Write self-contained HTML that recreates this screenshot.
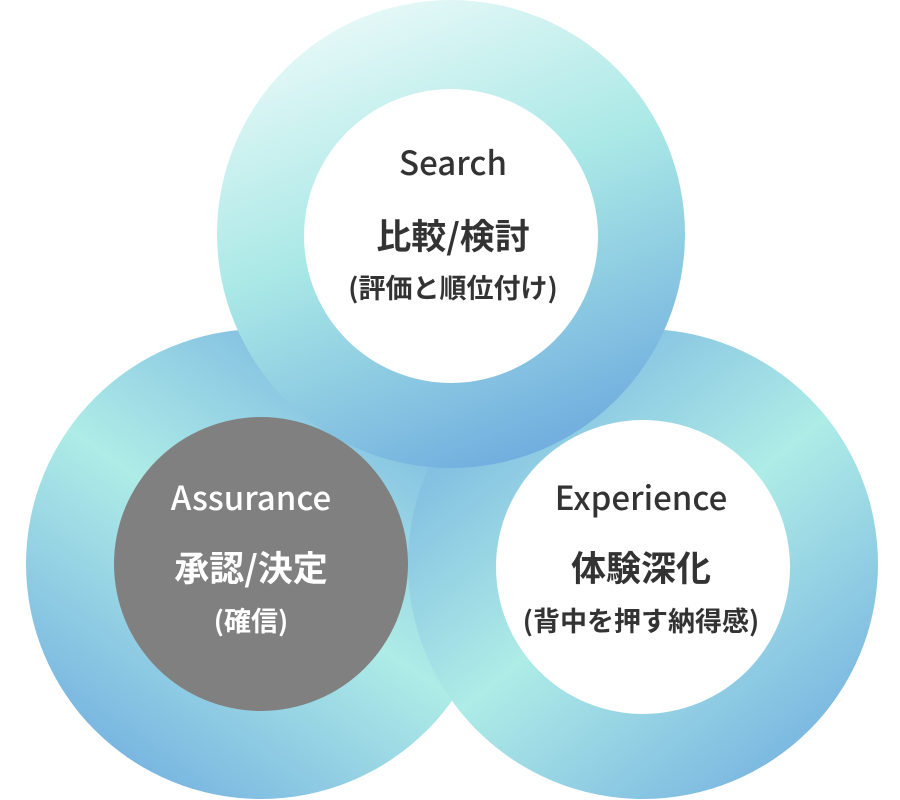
<!DOCTYPE html>
<html><head><meta charset="utf-8"><style>
html,body{margin:0;padding:0;background:#fff;}
svg{display:block;}
text{font-family:"Noto Sans CJK JP","Liberation Sans",sans-serif;text-anchor:middle;}
</style></head><body>
<svg width="900" height="800" viewBox="0 0 900 800" xmlns="http://www.w3.org/2000/svg">
<defs>
<linearGradient id="gt" x1="0.3" y1="0" x2="0.7" y2="1">
<stop offset="0" stop-color="#e8f9f8"/>
<stop offset="0.45" stop-color="#a9e8e6"/>
<stop offset="1" stop-color="#6eaade"/>
</linearGradient>
<linearGradient id="gl" x1="0.85" y1="0" x2="0.15" y2="1">
<stop offset="0" stop-color="#6fabdf"/>
<stop offset="0.5" stop-color="#aeece7"/>
<stop offset="1" stop-color="#6fabdf"/>
</linearGradient>
<linearGradient id="gr" x1="0.1" y1="0" x2="0.9" y2="1">
<stop offset="0" stop-color="#6fabdf"/>
<stop offset="0.5" stop-color="#aeece7"/>
<stop offset="1" stop-color="#6fabdf"/>
</linearGradient>
</defs>
<circle cx="261" cy="564" r="235" fill="url(#gl)"/>
<circle cx="643" cy="564" r="235" fill="url(#gr)"/>
<circle cx="451" cy="234" r="234" fill="url(#gt)"/>
<circle cx="451" cy="236" r="147" fill="#fff"/>
<circle cx="261" cy="564" r="147" fill="#808080"/>
<circle cx="643" cy="567" r="147" fill="#fff"/>
<g fill="#333">
<text x="453" y="175" font-size="33" font-weight="500">Search</text>
<text x="453" y="249" font-size="35" font-weight="bold">比較/検討</text>
<text x="453" y="298" font-size="27" font-weight="bold">(評価と順位付け)</text>
<text x="641" y="510" font-size="33" font-weight="500">Experience</text>
<text x="641" y="581" font-size="35" font-weight="bold">体験深化</text>
<text x="641" y="631" font-size="27" font-weight="bold">(背中を押す納得感)</text>
</g>
<g fill="#fff">
<text x="251" y="510" font-size="33" font-weight="500">Assurance</text>
<text x="251" y="581" font-size="35" font-weight="bold">承認/決定</text>
<text x="251" y="631" font-size="27" font-weight="bold">(確信)</text>
</g>
</svg>
</body></html>
